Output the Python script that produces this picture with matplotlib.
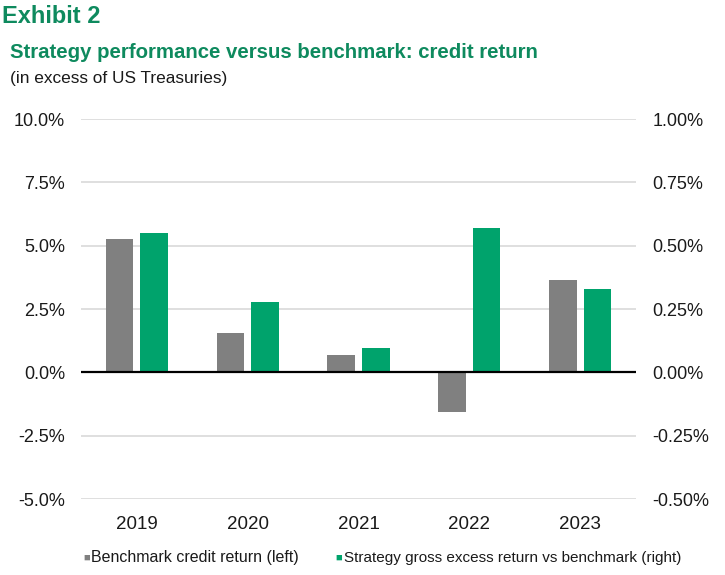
import numpy as np
import matplotlib
matplotlib.use("Agg")
import matplotlib.pyplot as plt
from matplotlib.ticker import FuncFormatter

### Data
years = ["2019", "2020", "2021", "2022", "2023"]
benchmark = [5.26, 1.56, 0.70, -1.55, 3.64]      # left axis, %
strategy = [0.55, 0.278, 0.098, 0.570, 0.328]    # right axis, %
left_ticks = [-5.0, -2.5, 0.0, 2.5, 5.0, 7.5, 10.0]
right_ticks = [-0.50, -0.25, 0.0, 0.25, 0.50, 0.75, 1.00]

GREEN = "#00A36C"
TITLE_GREEN = "#0E8A5E"
GRAY = "#808080"

plt.rcParams['font.family'] = ['Liberation Sans', 'DejaVu Sans']

fig = plt.figure(figsize=(7.25, 5.75), dpi=100)
ax = fig.add_axes([0.112, 0.132, 0.765, 0.661])
ax2 = ax.twinx()

x = np.arange(len(years))
w = 0.25
off = 0.155

ax.bar(x - off, benchmark, width=w, color=GRAY, zorder=3)
ax2.bar(x + off, strategy, width=w, color=GREEN, zorder=3)

ax.set_xlim(-0.5, len(years) - 0.5)
ax.set_ylim(-5, 10)
ax2.set_ylim(-0.5, 1.0)
ax.set_yticks(left_ticks)
ax2.set_yticks(right_ticks)
ax.yaxis.set_major_formatter(FuncFormatter(lambda v, p: f"{v:.1f}%"))
ax2.yaxis.set_major_formatter(FuncFormatter(lambda v, p: f"{v:.2f}%"))

ax.set_xticks(x)
ax.set_xticklabels(years)

for a in (ax, ax2):
    for s in a.spines.values():
        s.set_visible(False)
    a.tick_params(length=0, labelsize=13, colors="#1a1a1a")
ax.tick_params(axis="y", pad=11.5)
ax2.tick_params(axis="y", pad=12)
ax.tick_params(axis="x", pad=12, labelsize=13.5)

ax.grid(axis="y", color="#d9d9d9", linewidth=1.2, zorder=0)
ax.set_axisbelow(True)
ax2.axhline(0, color="black", linewidth=1.6, zorder=4)

# titles
fig.text(0.003, 0.972, "Exhibit 2", fontsize=17, fontweight="bold", color=TITLE_GREEN, va="center")
fig.text(0.014, 0.909, "Strategy performance versus benchmark: credit return", fontsize=14.7,
         fontweight="bold", color=TITLE_GREEN, va="center")
fig.text(0.014, 0.864, "(in excess of US Treasuries)", fontsize=12.4, color="#1a1a1a", va="center")

# legend
fig.text(0.115, 0.030, "\u25a0", fontsize=8, color=GRAY, va="center")
fig.text(0.126, 0.030, "Benchmark credit return (left)", fontsize=11.5, color="#1a1a1a", va="center")
fig.text(0.462, 0.030, "\u25a0", fontsize=8, color=GREEN, va="center")
fig.text(0.474, 0.030, "Strategy gross excess return vs benchmark (right)", fontsize=11,
         color="#1a1a1a", va="center")

fig.savefig("out.png", dpi=100)
